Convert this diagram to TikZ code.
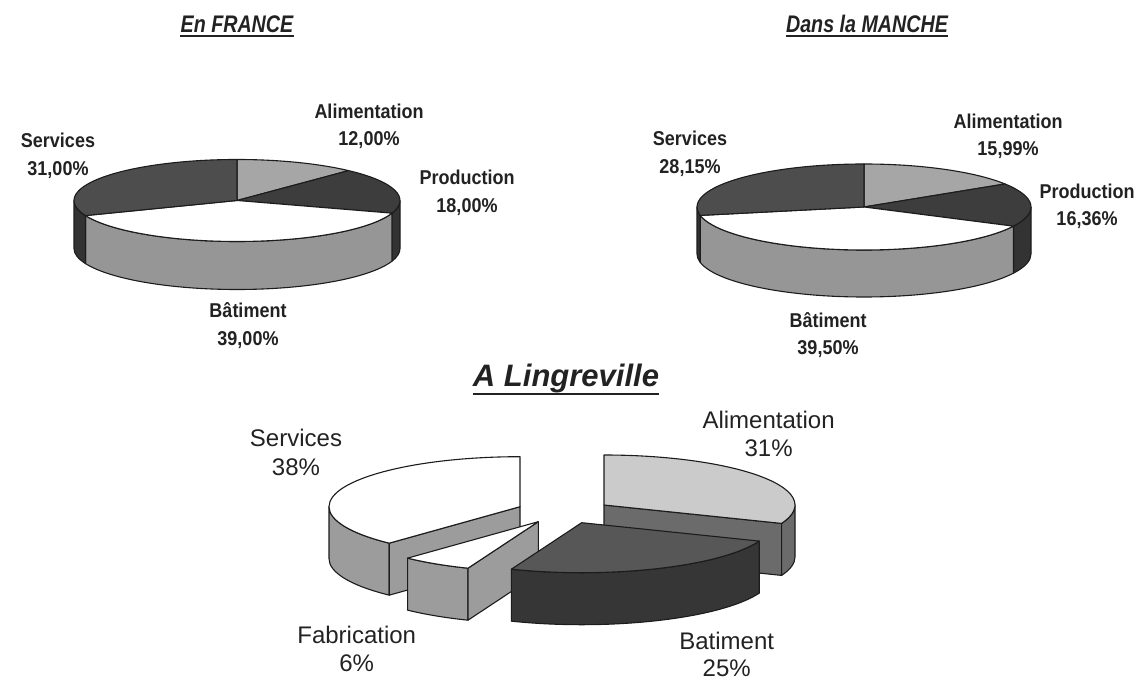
\documentclass[tikz,border=0pt]{standalone}
\usepackage{fontspec}
\setmainfont{Liberation Sans}
\newfontfamily\narrowsans{Liberation Sans}[FakeStretch=0.9]
\newfontfamily\titlesans{Liberation Sans}[FakeStretch=0.82]
\usetikzlibrary{positioning}

\definecolor{edgeblack}{HTML}{1C1C1C}
\definecolor{inkblack}{HTML}{222222}
\definecolor{alimgray}{HTML}{A6A6A6}
\definecolor{servdark}{HTML}{4D4D4D}
\definecolor{proddark}{HTML}{3D3D3D}
\definecolor{sidedark}{HTML}{333333}
\definecolor{sidegray}{HTML}{969696}
\definecolor{alimlight}{HTML}{CBCBCB}
\definecolor{alimside}{HTML}{6B6B6B}
\definecolor{battop}{HTML}{575757}
\definecolor{batside}{HTML}{363636}
\definecolor{fabside}{HTML}{9C9C9C}

\begin{document}
\begin{tikzpicture}[
            x=1pt, y=1pt,
            every node/.style={on grid, inner sep=0pt, text=inkblack},
            pielbl/.style={font=\narrowsans\bfseries\fontsize{20}{24}\selectfont, text height=14.5pt, text depth=0pt},
            slicelbl/.style={font=\fontsize{24}{28}\selectfont, text height=17.2pt, text depth=0pt},
            charttitle/.style={font=\titlesans\bfseries\itshape\fontsize{24}{28}\selectfont, text height=17.2pt, text depth=0pt},
            bigtitle/.style={font=\bfseries\itshape\fontsize{31}{35}\selectfont, text height=22.6pt, text depth=6.5pt},
            face/.style={draw=edgeblack, line width=1.1pt, line join=round},
            underline/.style={draw=inkblack, line width=2pt}
        ]
        \useasboundingbox (0,0) rectangle (1142,682);

        % Titles %
        \node[charttitle] (france) at (237,658) {En FRANCE};
        \node[charttitle] (manche) at (867,658) {Dans la MANCHE};
        \node[bigtitle] (lingre) at (566,304) {A Lingreville};
        \draw[underline] ([yshift=-3pt]france.south west) -- ([yshift=-3pt]france.south east);
        \draw[underline] ([yshift=-3pt]manche.south west) -- ([yshift=-3pt]manche.south east);
        \draw[underline, line width=2.5pt] ([yshift=-1.5pt]lingre.south west) -- ([yshift=-1.5pt]lingre.south east);

        % Draw France pie %
        \begin{scope}[shift={(237,481.5)}, x radius=163, y radius=41]
            \filldraw[face, fill=sidedark] (-18:163 and 41) arc[start angle=-18, end angle=0] -- ++(0,-48) arc[start angle=0, end angle=-18] -- cycle;
            \filldraw[face, fill=sidegray] (-18:163 and 41) arc[start angle=-18, end angle=-158.4] -- ++(0,-48) arc[start angle=-158.4, end angle=-18] -- cycle;
            \filldraw[face, fill=sidedark] (-158.4:163 and 41) arc[start angle=-158.4, end angle=-180] -- ++(0,-48) arc[start angle=-180, end angle=-158.4] -- cycle;
            \filldraw[face, fill=alimgray] (0,0) -- (90:163 and 41) arc[start angle=90, end angle=46.8] -- cycle;
            \filldraw[face, fill=proddark] (0,0) -- (46.8:163 and 41) arc[start angle=46.8, end angle=-18] -- cycle;
            \filldraw[face, fill=white] (0,0) -- (-18:163 and 41) arc[start angle=-18, end angle=-158.4] -- cycle;
            \filldraw[face, fill=servdark] (0,0) -- (-158.4:163 and 41) arc[start angle=-158.4, end angle=-270] -- cycle;
        \end{scope}

        \node[pielbl] (alim1) at (369,571) {Alimentation};
        \node[pielbl, below=27pt of alim1] (alim1v) {12,00\%};
        \node[pielbl] (serv1) at (58,542) {Services};
        \node[pielbl, below=28pt of serv1] (serv1v) {31,00\%};
        \node[pielbl] (prod1) at (467,505) {Production};
        \node[pielbl, below=28pt of prod1] (prod1v) {18,00\%};
        \node[pielbl] (bat1) at (248,372) {Bâtiment};
        \node[pielbl, below=28pt of bat1] (bat1v) {39,00\%};

        % Draw Manche pie %
        \begin{scope}[shift={(864,475)}, x radius=167, y radius=43]
            \filldraw[face, fill=sidedark] (-26.5:167 and 43) arc[start angle=-26.5, end angle=0] -- ++(0,-47) arc[start angle=0, end angle=-26.5] -- cycle;
            \filldraw[face, fill=sidegray] (-26.5:167 and 43) arc[start angle=-26.5, end angle=-168.7] -- ++(0,-47) arc[start angle=-168.7, end angle=-26.5] -- cycle;
            \filldraw[face, fill=sidedark] (-168.7:167 and 43) arc[start angle=-168.7, end angle=-180] -- ++(0,-47) arc[start angle=-180, end angle=-168.7] -- cycle;
            \filldraw[face, fill=alimgray] (0,0) -- (90:167 and 43) arc[start angle=90, end angle=32.4] -- cycle;
            \filldraw[face, fill=proddark] (0,0) -- (32.4:167 and 43) arc[start angle=32.4, end angle=-26.5] -- cycle;
            \filldraw[face, fill=white] (0,0) -- (-26.5:167 and 43) arc[start angle=-26.5, end angle=-168.7] -- cycle;
            \filldraw[face, fill=servdark] (0,0) -- (-168.7:167 and 43) arc[start angle=-168.7, end angle=-270] -- cycle;
        \end{scope}

        \node[pielbl] (alim2) at (1008,561) {Alimentation};
        \node[pielbl, below=27pt of alim2] (alim2v) {15,99\%};
        \node[pielbl] (serv2) at (690,544) {Services};
        \node[pielbl, below=28pt of serv2] (serv2v) {28,15\%};
        \node[pielbl] (prod2) at (1087,491) {Production};
        \node[pielbl, below=27pt of prod2] (prod2v) {16,36\%};
        \node[pielbl] (bat2) at (828,362) {Bâtiment};
        \node[pielbl, below=27pt of bat2] (bat2v) {39,50\%};

        % Draw Lingreville pie (exploded) %
        \begin{scope}[shift={(604,177)}, x radius=191, y radius=50]
            \filldraw[face, fill=alimside] (0,0) -- (-21.6:191 and 50) -- ++(0,-52) -- (0,-52) -- cycle;
            \filldraw[face, fill=alimside] (-21.6:191 and 50) arc[start angle=-21.6, end angle=0] -- ++(0,-52) arc[start angle=0, end angle=-21.6] -- cycle;
            \filldraw[face, fill=alimlight] (0,0) -- (-21.6:191 and 50) arc[start angle=-21.6, end angle=90] -- cycle;
        \end{scope}
        \begin{scope}[shift={(520,175.3)}, x radius=191, y radius=50]
            \filldraw[face, fill=fabside] (180:191 and 50) arc[start angle=180, end angle=226.8] -- ++(0,-52) arc[start angle=226.8, end angle=180] -- cycle;
            \filldraw[face, fill=fabside] (0,0) -- (226.8:191 and 50) -- ++(0,-52) -- (0,-52) -- cycle;
            \filldraw[face, fill=white] (0,0) -- (90:191 and 50) arc[start angle=90, end angle=226.8] -- cycle;
        \end{scope}
        \begin{scope}[shift={(538.3,160.3)}, x radius=191, y radius=50]
            \filldraw[face, fill=fabside] (226.8:191 and 50) arc[start angle=226.8, end angle=248.4] -- ++(0,-52) arc[start angle=248.4, end angle=226.8] -- cycle;
            \filldraw[face, fill=fabside] (0,0) -- (248.4:191 and 50) -- ++(0,-52) -- (0,-52) -- cycle;
            \filldraw[face, fill=white] (0,0) -- (226.8:191 and 50) arc[start angle=226.8, end angle=248.4] -- cycle;
        \end{scope}
        \begin{scope}[shift={(581.7,159.3)}, x radius=191, y radius=50]
            \filldraw[face, fill=batside] (248.4:191 and 50) arc[start angle=248.4, end angle=338.4] -- ++(0,-52) arc[start angle=338.4, end angle=248.4] -- cycle;
            \filldraw[face, fill=battop] (0,0) -- (248.4:191 and 50) arc[start angle=248.4, end angle=338.4] -- cycle;
        \end{scope}

        \node[slicelbl] (alim3) at (768.6,262) {Alimentation};
        \node[slicelbl, below=28pt of alim3] (alim3v) {31\%};
        \node[slicelbl] (serv3) at (296,244) {Services};
        \node[slicelbl, below=29pt of serv3] (serv3v) {38\%};
        \node[slicelbl] (fab3) at (356.7,47) {Fabrication};
        \node[slicelbl, below=28pt of fab3] (fab3v) {6\%};
        \node[slicelbl] (bat3) at (726.7,41) {Batiment};
        \node[slicelbl, below=27pt of bat3] (bat3v) {25\%};
        \end{tikzpicture}
\end{document}
